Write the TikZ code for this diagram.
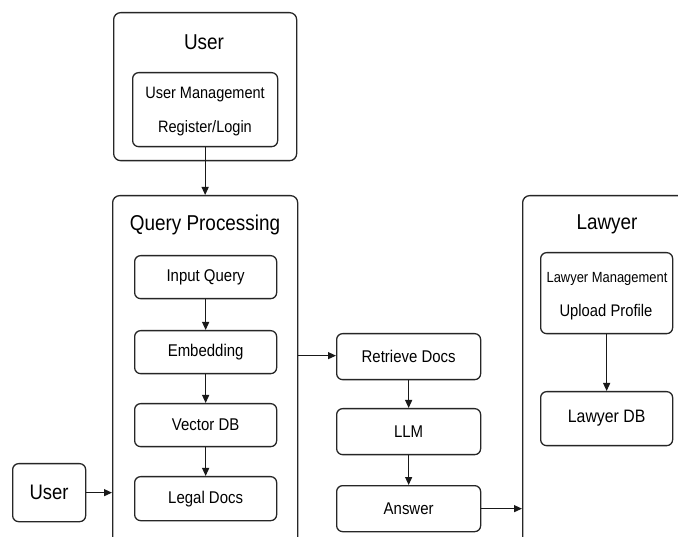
\documentclass[tikz,border=0pt]{standalone}
\usepackage{fontspec}
\setmainfont{Liberation Sans}[FakeStretch=0.88]
\usetikzlibrary{arrows.meta}
\begin{document}
\begin{tikzpicture}[x=1pt,y=-1pt,
  outer/.style={draw=black!85,line width=1.3pt,rounded corners=7pt,anchor=north west,inner sep=0pt},
  box/.style={draw=black!85,line width=1.3pt,rounded corners=6pt,anchor=north west,inner sep=0pt,font=\fontsize{17}{20}\selectfont,align=center},
  title/.style={font=\fontsize{21.5}{26}\selectfont},
  arr/.style={draw=black!90,line width=1.1pt,-{Triangle[length=8pt,width=7pt]}}]
\clip (0,0) rectangle (678,537);
\fill[white] (0,0) rectangle (678,537);
% User group
\node[outer,minimum width=183pt,minimum height=148pt] (ug) at (113,12) {};
\node[title] (ugt) at (204,42) {User};
\node[box,minimum width=145pt,minimum height=74pt] (um) at (132,72) {};
\node[font=\fontsize{16.5}{19}\selectfont] (um1) at (205,95) {User Management};
\node[font=\fontsize{16.5}{19}\selectfont] (um2) at (205,128) {Register/Login};
% Query processing group
\node[outer,minimum width=185pt,minimum height=360pt] (qp) at (112,195) {};
\node[title] (qpt) at (205,225) {Query Processing};
\node[box,minimum width=142pt,minimum height=43pt] (iq) at (134,255) {Input Query};
\node[box,minimum width=142pt,minimum height=43pt] (em) at (134,330) {Embedding};
\node[box,minimum width=142pt,minimum height=43pt] (vd) at (134,403) {Vector DB};
\node[box,minimum width=142pt,minimum height=44pt] (ld) at (134,476) {Legal Docs};
% User small
\node[box,minimum width=73pt,minimum height=58pt,font=\fontsize{21}{24}\selectfont] (us) at (12,463) {User};
% middle column
\node[box,minimum width=144pt,minimum height=46pt] (rd) at (336,333) {Retrieve Docs};
\node[box,minimum width=144pt,minimum height=46pt] (llm) at (336,408) {LLM};
\node[box,minimum width=144pt,minimum height=46pt] (ans) at (336,485) {Answer};
% Lawyer group
\node[outer,minimum width=180pt,minimum height=360pt] (lg) at (522,195) {};
\node[title] (lgt) at (607,224) {Lawyer};
\node[box,minimum width=132pt,minimum height=81pt] (lm) at (540,252) {};
\node[font=\fontsize{14.7}{17}\selectfont] (lm1) at (607,279) {Lawyer Management};
\node[font=\fontsize{16.8}{19}\selectfont] (lm2) at (606,312) {Upload Profile};
\node[box,minimum width=132pt,minimum height=54pt,font=\fontsize{18}{21}\selectfont] (ldb) at (540,391) {Lawyer DB};
% arrows
\draw[arr] (um.south) -- (um.south |- qp.north);
\draw[arr] (iq) -- (em);
\draw[arr] (em) -- (vd);
\draw[arr] (vd) -- (ld);
\draw[arr] (us.east) -- (us.east -| qp.west);
\draw[arr] (qp.east |- rd.west) ++(0,-1) coordinate (a1) (a1) -- (rd.west |- a1);
\draw[arr] (rd) -- (llm);
\draw[arr] (llm) -- (ans);
\draw[arr] (ans.east) -- (ans.east -| lg.west);
\draw[arr] (lm) -- (ldb);
\end{tikzpicture}
\end{document}
